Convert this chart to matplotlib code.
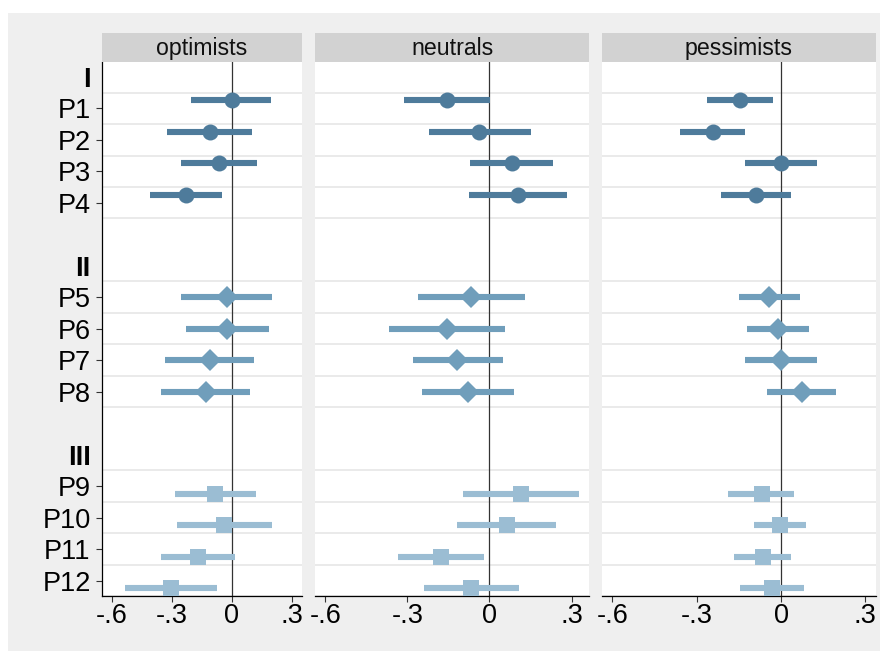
import numpy as np
import matplotlib.pyplot as plt
from matplotlib.patches import Rectangle

plt.rcParams['font.family'] = ['Liberation Sans', 'DejaVu Sans']

# coefficient estimates and confidence bounds, P1..P12
labels = ["P1", "P2", "P3", "P4", "P5", "P6", "P7", "P8", "P9", "P10", "P11", "P12"]
groups = ["I", "II", "III"]
panels = ["optimists", "neutrals", "pessimists"]

opt_est = [0.000, -0.110, -0.066, -0.228, -0.026, -0.023, -0.111, -0.131, -0.083, -0.040, -0.168, -0.303]
opt_lo = [-0.203, -0.323, -0.256, -0.411, -0.256, -0.231, -0.333, -0.356, -0.286, -0.274, -0.354, -0.533]
opt_hi = [0.194, 0.102, 0.127, -0.048, 0.202, 0.186, 0.109, 0.092, 0.122, 0.199, 0.017, -0.073]

neu_est = [-0.155, -0.037, 0.081, 0.104, -0.067, -0.154, -0.117, -0.079, 0.115, 0.064, -0.179, -0.066]
neu_lo = [-0.311, -0.220, -0.073, -0.074, -0.261, -0.366, -0.278, -0.245, -0.095, -0.119, -0.333, -0.239]
neu_hi = [0.003, 0.150, 0.234, 0.285, 0.131, 0.057, 0.048, 0.090, 0.327, 0.243, -0.020, 0.107]

pes_est = [-0.147, -0.243, -0.001, -0.088, -0.041, -0.011, 0.000, 0.074, -0.069, -0.004, -0.065, -0.032]
pes_lo = [-0.265, -0.360, -0.128, -0.212, -0.151, -0.120, -0.127, -0.050, -0.187, -0.095, -0.166, -0.147]
pes_hi = [-0.028, -0.129, 0.128, 0.037, 0.067, 0.099, 0.129, 0.197, 0.047, 0.089, 0.037, 0.083]

xticks = [-0.6, -0.3, 0, 0.3]
xticklabels = ["-.6", "-.3", "0", ".3"]

data = [(opt_est, opt_lo, opt_hi), (neu_est, neu_lo, neu_hi), (pes_est, pes_lo, pes_hi)]

colors = ["#4e7b9b", "#709ebb", "#9bbdd3"]
markers = ["o", "D", "s"]
msizes = [11.5, 11.7, 12]
offsets = [-0.25, 0, 0.25]

W, H = 882, 651
fig = plt.figure(figsize=(W / 100, H / 100), dpi=100)
fig.patches.append(Rectangle((8 / W, 0), 872 / W, (H - 13) / H, transform=fig.transFigure,
                             facecolor="#efefef", edgecolor="none", zorder=-10))

# pixel extents of each panel (left, right) and its x range
boxes = [(101.7, 302.3), (315, 589.3), (601.7, 876)]
xlims = [(-0.651, 0.352), (-0.638, 0.365), (-0.638, 0.338)]
top, bottom = 62, 595.7
strip_top = 33

# row layout: header row then 4 items, one blank row between groups
ypos = []
ylab_pos, ylab_txt = [], []
for g, name in enumerate(groups):
    ylab_pos.append(g * 6)
    ylab_txt.append(name)
    for k in range(4):
        ypos.append(g * 6 + k + 1)
        ylab_pos.append(g * 6 + k + 1)
        ylab_txt.append(labels[g * 4 + k])

for p in range(3):
    l, r = boxes[p]
    ax = fig.add_axes([l / W, (H - bottom) / H, (r - l) / W, (bottom - top) / H])
    ax.set_facecolor("white")
    est, lo, hi = data[p]
    for g in range(3):
        for k in range(4):
            gridy = g * 6 + k + 0.5
            ax.axhline(gridy, color="#e8e8e8", lw=1.3, zorder=0)
        ax.axhline(g * 6 + 4.5, color="#e8e8e8", lw=1.3, zorder=0)
    ax.axvline(0, color="#333333", lw=0.9, zorder=1)
    for i in range(12):
        g = i // 4
        y = ypos[i] + offsets[g]
        ax.plot([lo[i], hi[i]], [y, y], color=colors[g], lw=4.4, solid_capstyle="butt", zorder=2)
        ax.plot(est[i], y, marker=markers[g], ms=msizes[g], color=colors[g], mec=colors[g],
                mew=0, zorder=3)
    ax.set_xlim(*xlims[p])
    ax.set_ylim(16.48, -0.47)
    ax.set_xticks(xticks)
    ax.set_xticklabels(xticklabels)
    ax.tick_params(axis="x", length=4.3, width=0.8, pad=1.2, labelsize=19.5, color="#333333")
    for s in ["top", "right"]:
        ax.spines[s].set_visible(False)
    ax.spines["bottom"].set_linewidth(0.9)
    if p == 0:
        ax.spines["left"].set_linewidth(0.9)
        ax.set_yticks(ylab_pos)
        ax.set_yticklabels(ylab_txt)
        ax.tick_params(axis="y", length=4.3, width=0.8, pad=3.6, labelsize=19.5, color="#333333")
        for tick, txt in zip(ax.yaxis.get_major_ticks(), ylab_txt):
            if txt in groups:
                tick.tick1line.set_visible(False)
                tick.label1.set_fontweight("bold")
    else:
        ax.spines["left"].set_visible(False)
        ax.set_yticks([])

    # panel title strip
    sax = fig.add_axes([l / W, (H - top) / H, (r - l) / W, (top - strip_top) / H])
    sax.set_facecolor("#d2d2d2")
    sax.set_xticks([])
    sax.set_yticks([])
    for s in sax.spines.values():
        s.set_visible(False)
    sax.text(0.5, 0.47, panels[p], ha="center", va="center", fontsize=16.7, color="#111111",
             transform=sax.transAxes)

fig.savefig("out.png", dpi=100)
